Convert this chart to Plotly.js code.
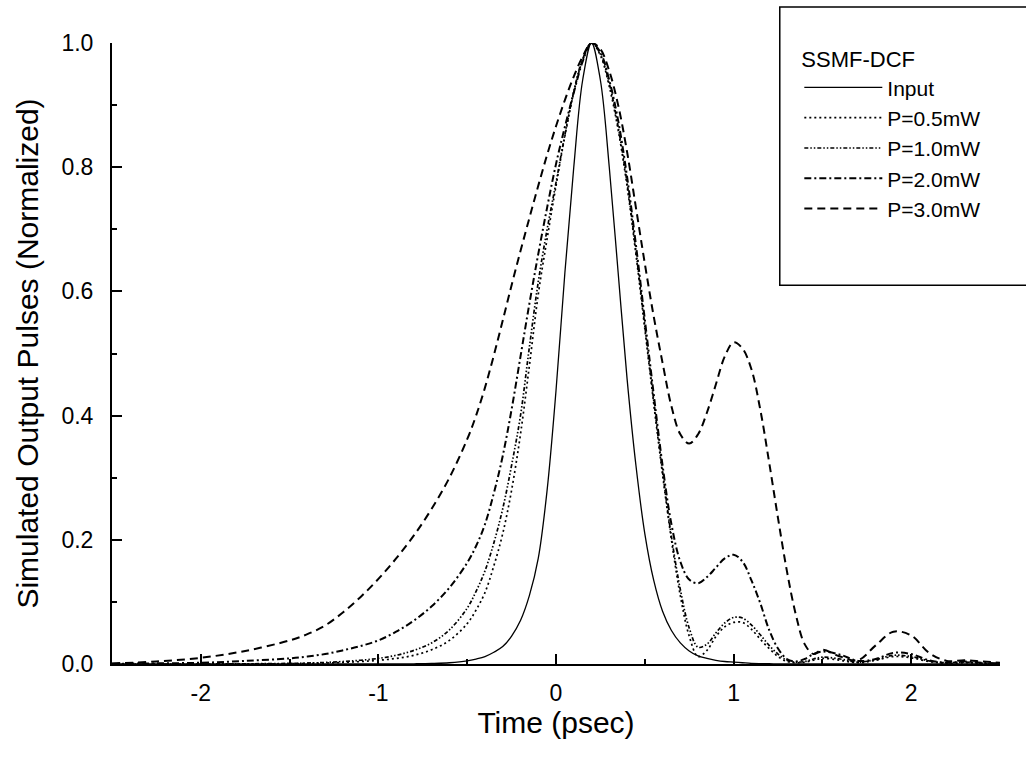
<!DOCTYPE html>
<html>
<head>
<meta charset="utf-8">
<script src="https://cdn.plot.ly/plotly-3.0.1.min.js"></script>
<style>html,body{margin:0;padding:0;background:#fff;}#chart{width:1026px;height:760px;}</style>
</head>
<body>
<div id="chart"></div>
<script>
// Time axis (psec)
var time = [-2.5,-2.25,-2.0,-1.75,-1.5,
  -1.4,-1.3,-1.2,-1.1,-1.0,-0.9,-0.8,-0.7,-0.6,
  -0.5,-0.45,-0.4,-0.35,-0.3,-0.25,-0.2,-0.15,-0.1,-0.05,
  0.0,0.05,0.1,0.15,0.2,0.25,0.3,0.35,0.4,0.45,
  0.5,0.55,0.6,0.65,0.7,0.75,0.8,0.85,0.9,0.95,
  1.0,1.05,1.1,1.15,1.2,1.25,1.3,1.35,1.4,1.45,1.5,
  1.6,1.7,1.8,1.9,2.0,2.1,2.2,2.3,2.4,2.5];

var inputPulse = [0,0,0,0,0,
  0,0,0,0,0,0,0.0003,0.0008,0.002,
  0.005,0.008,0.012,0.019,0.028,0.045,0.07,0.11,0.17,0.28,
  0.44,0.63,0.80,0.94,1.0,0.94,0.80,0.63,0.46,0.32,
  0.21,0.135,0.085,0.054,0.034,0.021,0.013,0.009,0.006,0.004,
  0.003,0.002,0.001,0.0006,0.0004,0.0002,0,0,0,0,0,
  0,0,0,0,0,0,0,0,0,0];

var p05 = [0,0,0,0,0.0005,
  0.001,0.0015,0.0025,0.004,0.006,0.009,0.014,0.023,0.038,
  0.065,0.087,0.115,0.158,0.21,0.28,0.37,0.48,0.595,0.685,
  0.77,0.85,0.92,0.972,1.0,0.98,0.93,0.86,0.77,0.66,
  0.54,0.42,0.305,0.20,0.11,0.045,0.012,0.022,0.044,0.06,
  0.067,0.067,0.056,0.04,0.025,0.012,0.004,0.002,0.003,0.006,0.009,
  0.006,0.002,0.006,0.012,0.010,0.004,0.001,0.002,0.001,0];

var p10 = [0,0,0,0.0003,0.001,
  0.0015,0.0025,0.004,0.006,0.009,0.014,0.022,0.034,0.055,
  0.09,0.117,0.15,0.195,0.25,0.32,0.40,0.51,0.615,0.70,
  0.775,0.852,0.922,0.974,1.0,0.982,0.935,0.865,0.775,0.665,
  0.545,0.425,0.31,0.205,0.12,0.058,0.027,0.032,0.05,0.066,
  0.075,0.074,0.063,0.047,0.03,0.016,0.006,0.003,0.004,0.008,0.011,
  0.008,0.003,0.007,0.014,0.012,0.005,0.002,0.003,0.001,0];

var p20 = [0.0003,0.001,0.002,0.005,0.009,
  0.012,0.016,0.022,0.029,0.038,0.052,0.07,0.093,0.123,
  0.163,0.19,0.225,0.275,0.335,0.41,0.495,0.58,0.66,0.735,
  0.805,0.865,0.92,0.97,1.0,0.985,0.94,0.875,0.785,0.675,
  0.555,0.435,0.32,0.225,0.165,0.136,0.13,0.14,0.155,0.17,
  0.176,0.165,0.135,0.098,0.055,0.025,0.008,0.004,0.008,0.016,0.02,
  0.015,0.005,0.008,0.018,0.016,0.006,0.002,0.004,0.002,0.001];

var p30 = [0.001,0.004,0.01,0.021,0.038,
  0.048,0.062,0.083,0.108,0.137,0.17,0.207,0.25,0.30,
  0.362,0.40,0.445,0.497,0.553,0.61,0.665,0.718,0.77,0.82,
  0.866,0.908,0.946,0.978,1.0,0.99,0.955,0.90,0.825,0.735,
  0.645,0.56,0.485,0.415,0.37,0.355,0.37,0.405,0.45,0.495,
  0.518,0.508,0.475,0.41,0.325,0.235,0.15,0.08,0.032,0.016,0.023,
  0.012,0.006,0.03,0.052,0.046,0.018,0.005,0.006,0.004,0.002];

var seriesNames = ['Input','P=0.5mW','P=1.0mW','P=2.0mW','P=3.0mW'];
var xTickVals = [-2,-1,0,1,2];
var xTickText = ['-2','-1','0','1','2'];
var yTickVals = [0,0.2,0.4,0.6,0.8,1.0];
var yTickText = ['0.0','0.2','0.4','0.6','0.8','1.0'];

var FONT = 'Liberation Sans, Arial, sans-serif';
var dashes = ['solid','2px,3px','4px,2px,1.5px,2px,1.5px,2px','7px,3px,2px,3px','8px,5px'];
var widths = [1.3,1.7,1.7,2,2];
var ys = [inputPulse,p05,p10,p20,p30];

var traces = ys.map(function(y,i){
  return {
    x: time, y: y, type:'scatter', mode:'lines', name: seriesNames[i],
    line:{color:'#000', width:widths[i], dash:dashes[i], shape:'spline', smoothing:1},
    cliponaxis:false
  };
});

var layout = {
  width:1026, height:760,
  paper_bgcolor:'#fff', plot_bgcolor:'#fff',
  margin:{l:112, r:26, t:43, b:96},
  font:{family:FONT, color:'#000', size:21},
  showlegend:true,
  legend:{
    x:0.774, y:1.007, xanchor:'left', yanchor:'top',
    bgcolor:'rgba(0,0,0,0)', borderwidth:0,
    font:{family:FONT, size:21, color:'#000'},
    title:{text:'SSMF-DCF', font:{family:FONT, size:22, color:'#000'}},
    itemwidth:78, tracegroupgap:0
  },
  xaxis:{
    range:[-2.5,2.5], showgrid:false, zeroline:false,
    showline:true, linecolor:'#000', linewidth:2, mirror:false,
    ticks:'inside', ticklen:10, tickwidth:2, tickcolor:'#000',
    tickmode:'array', tickvals:xTickVals, ticktext:xTickText,
    tickfont:{family:FONT, size:23, color:'#000'},
    ticklabelstandoff:7,
    minor:{ticks:'inside', dtick:0.5, ticklen:5, tickwidth:2, tickcolor:'#000', showgrid:false},
    title:{text:'Time (psec)', font:{family:FONT, size:30, color:'#000'}, standoff:0}
  },
  yaxis:{
    range:[0,1], showgrid:false, zeroline:false,
    showline:true, linecolor:'#000', linewidth:2, mirror:false,
    ticks:'inside', ticklen:10, tickwidth:2, tickcolor:'#000',
    tickmode:'array', tickvals:yTickVals, ticktext:yTickText,
    tickfont:{family:FONT, size:23, color:'#000'},
    ticklabelstandoff:12,
    minor:{ticks:'inside', dtick:0.1, ticklen:5, tickwidth:2, tickcolor:'#000', showgrid:false},
    title:{text:'Simulated Output Pulses (Normalized)', font:{family:FONT, size:30, color:'#000'}, standoff:14}
  },
  shapes:[{
    type:'rect', xref:'paper', yref:'paper',
    x0:0.752, x1:1.06, y0:0.610, y1:1.058,
    line:{color:'#000', width:1.5}, fillcolor:'rgba(255,255,255,1)', layer:'below'
  }]
};

Plotly.newPlot('chart', traces, layout, {displayModeBar:false, staticPlot:true});
</script>
</body>
</html>
